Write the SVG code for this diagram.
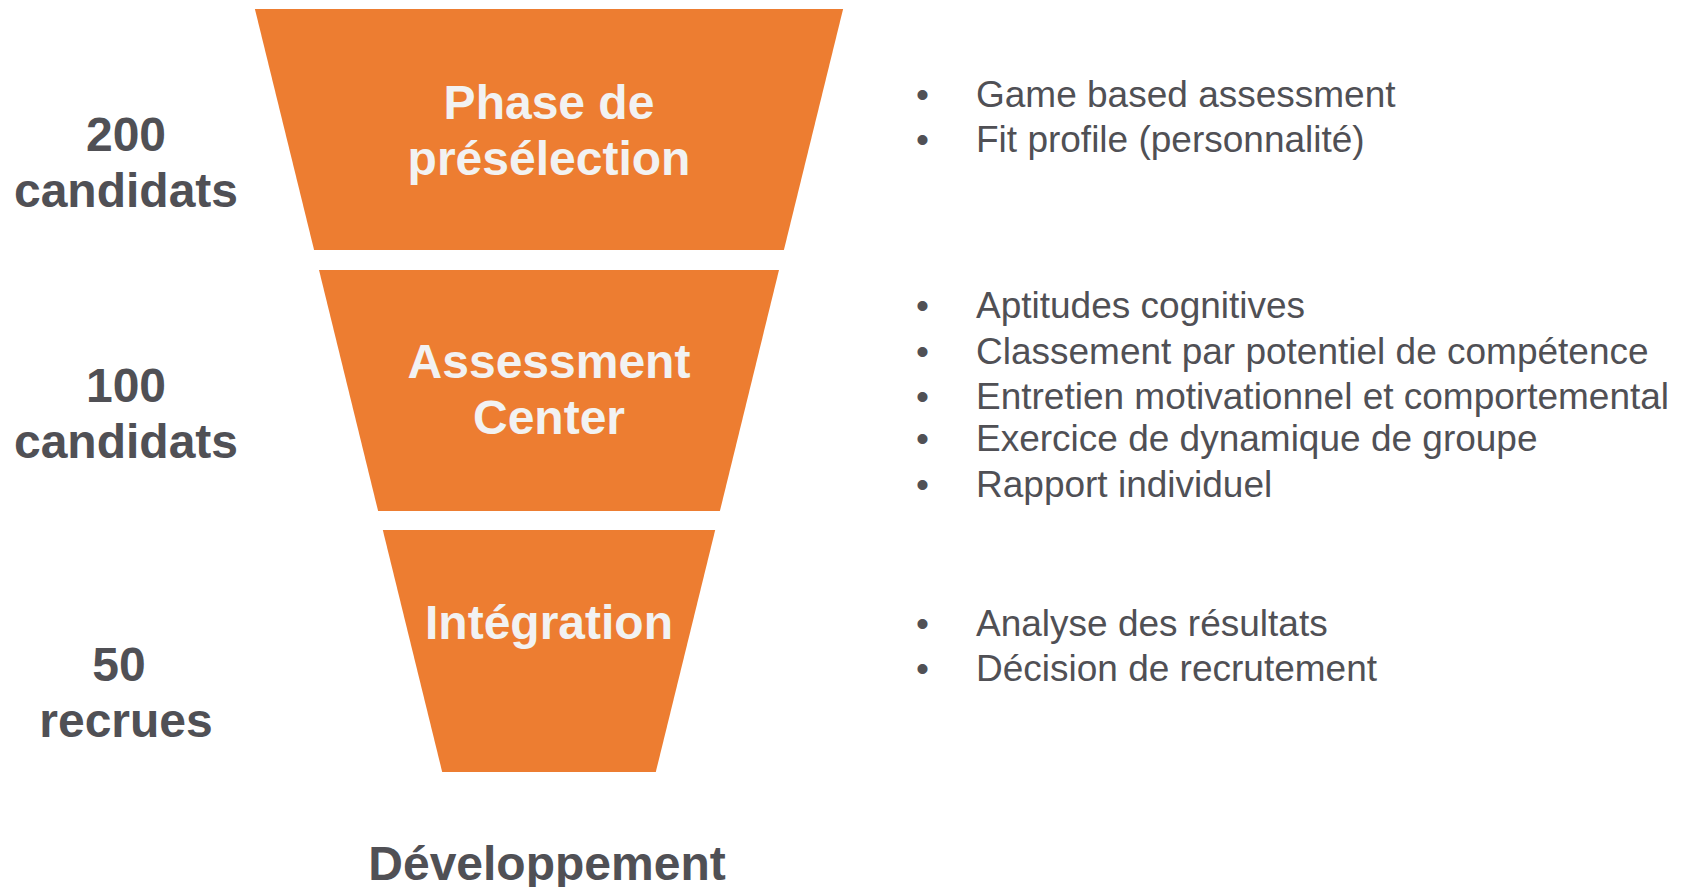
<svg xmlns="http://www.w3.org/2000/svg" width="1693" height="887" viewBox="0 0 1693 887">
<style>
.stage{fill:#ED7D31;}
.stxt{font-family:"Liberation Sans",Arial,sans-serif;font-weight:bold;font-size:48px;fill:#F2F2F2;text-anchor:middle;}
.lbl{font-family:"Liberation Sans",Arial,sans-serif;font-weight:bold;font-size:48px;fill:#505055;text-anchor:middle;}
.bul{font-family:"Liberation Sans",Arial,sans-serif;font-size:37px;fill:#505055;}
</style>
<rect width="1693" height="887" fill="#FFFFFF"/>
<g id="stage-preselection">
<polygon class="stage" points="254.9,9 843.1,9 783.9,250 314.1,250"/>
<text class="stxt" x="549" y="119">Phase de</text>
<text class="stxt" x="549" y="175">présélection</text>
</g>
<g id="stage-assessment">
<polygon class="stage" points="319,270 779,270 719.9,511 378.1,511"/>
<text class="stxt" x="549" y="378">Assessment</text>
<text class="stxt" x="549" y="434">Center</text>
</g>
<g id="stage-integration">
<polygon class="stage" points="382.8,530 715.2,530 655.8,772 442.2,772"/>
<text class="stxt" x="549" y="639">Intégration</text>
</g>
<g id="label-200">
<text class="lbl" x="126" y="151">200</text>
<text class="lbl" x="126" y="207">candidats</text>
</g>
<g id="label-100">
<text class="lbl" x="126" y="402">100</text>
<text class="lbl" x="126" y="458">candidats</text>
</g>
<g id="label-50">
<text class="lbl" x="119" y="681">50</text>
<text class="lbl" x="126" y="737">recrues</text>
</g>
<g id="label-developpement">
<text class="lbl" x="547" y="880">Développement</text>
</g>
<g id="bullets-preselection" class="bul">
<text x="916" y="107">•</text><text x="976" y="107">Game based assessment</text>
<text x="916" y="152">•</text><text x="976" y="152">Fit profile (personnalité)</text>
</g>
<g id="bullets-assessment" class="bul">
<text x="916" y="318">•</text><text x="976" y="318">Aptitudes cognitives</text>
<text x="916" y="364">•</text><text x="976" y="364">Classement par potentiel de compétence</text>
<text x="916" y="409">•</text><text x="976" y="409">Entretien motivationnel et comportemental</text>
<text x="916" y="451">•</text><text x="976" y="451">Exercice de dynamique de groupe</text>
<text x="916" y="497">•</text><text x="976" y="497">Rapport individuel</text>
</g>
<g id="bullets-integration" class="bul">
<text x="916" y="636">•</text><text x="976" y="636">Analyse des résultats</text>
<text x="916" y="681">•</text><text x="976" y="681">Décision de recrutement</text>
</g>
<g id="connectors"></g>
</svg>
